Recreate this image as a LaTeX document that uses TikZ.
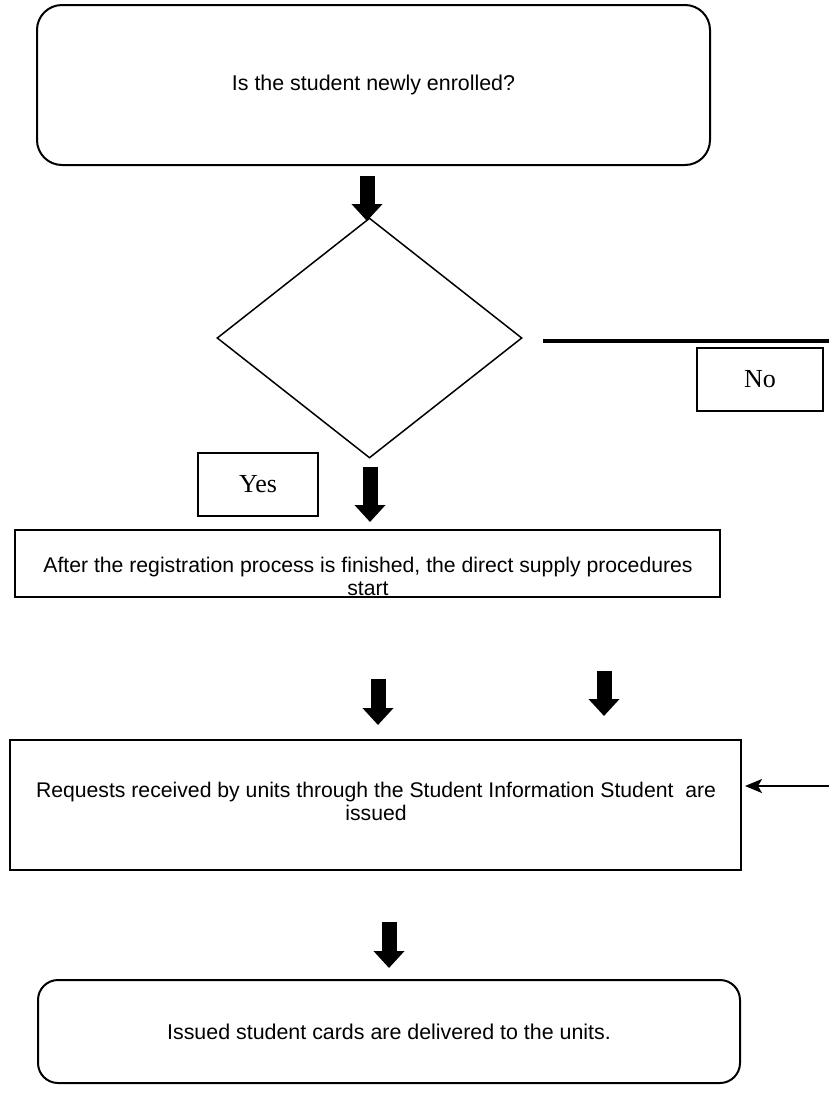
\documentclass[tikz,border=0pt]{standalone}
\usepackage{fontspec}
\setmainfont{Liberation Sans}
\newfontfamily\tnr{Liberation Serif}
\usetikzlibrary{shapes.geometric,arrows.meta}
\begin{document}
\begin{tikzpicture}[x=1pt,y=-1pt,
  box/.style={draw, line width=2pt, inner sep=0pt, font=\fontsize{21.4}{24}\selectfont, align=center},
  rbox/.style={box, rounded corners=25pt},
  txt/.style={inner sep=0pt, font=\fontsize{21.2}{23}\selectfont, align=center},
  lbl/.style={draw, line width=1.6pt, inner sep=0pt, font=\tnr\fontsize{26}{30}\selectfont},
  blk/.style={line width=15pt, -{Triangle[width=30pt,length=17pt]}},
  thin/.style={line width=2pt, -{Stealth[length=17pt,width=14pt,inset=4pt]}}
]
\useasboundingbox (0,0) rectangle (829,1109);

\node[rbox, minimum width=673pt, minimum height=160pt] (q) at (373.5,85) {Is the student newly enrolled?};
\node[draw, diamond, line width=1.5pt, minimum width=305pt, minimum height=240pt, inner sep=0pt] (d) at (369.5,338) {};
\node[lbl, minimum width=126pt, minimum height=63pt] (no) at (760,379.5) {No};
\node[lbl, minimum width=120pt, minimum height=63pt] (yes) at (258,484.5) {Yes};
\node[box, minimum width=705pt, minimum height=67pt] (b2) at (367.5,563.5) {};
\node[txt] (t2) at (368,576.5) {After the registration process is finished, the direct supply procedures\\start};
\node[box, minimum width=731pt, minimum height=130pt] (b3) at (375.5,805) {};
\node[txt] (t3) at (376,801) {Requests received by units through the Student Information Student\ \ are\\issued};
\node[rbox, rounded corners=20pt, minimum width=702pt, minimum height=103pt] (b4) at (389,1031.5) {Issued student cards are delivered to the units.};

% block arrows
\coordinate (a1s) at (367,176); \coordinate (a1e) at (367,221);
\coordinate (a2s) at (370,467); \coordinate (a2e) at (370,522);
\coordinate (a3s) at (378,679); \coordinate (a3e) at (378,725);
\coordinate (a4s) at (604,671); \coordinate (a4e) at (604,716);
\coordinate (a5s) at (389,922); \coordinate (a5e) at (389,968);
\draw[blk] (a1s) -- (a1e);
\draw[blk] (a2s) -- (a2e);
\draw[blk] (a3s) -- (a3e);
\draw[blk] (a4s) -- (a4e);
\draw[blk] (a5s) -- (a5e);

% No line
\coordinate (nl) at (543,341); \coordinate (nr) at (829,341);
\draw[line width=3.5pt] (nl) -- (nr);

% thin arrow into box 3
\coordinate (r3) at (829,786); \coordinate (r3t) at (745,786);
\draw[thin] (r3) -- (r3t);
\end{tikzpicture}
\end{document}
